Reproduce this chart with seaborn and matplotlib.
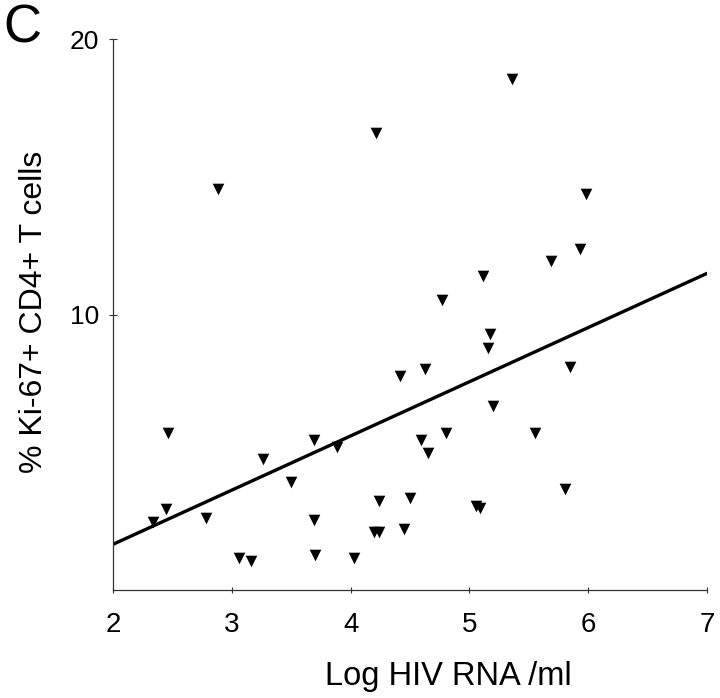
import numpy as np
import pandas as pd
import seaborn as sns
import matplotlib.pyplot as plt

# values
log_hiv_rna = [
    2.34, 2.447, 2.466, 2.783, 2.885, 3.061, 3.163, 3.264, 3.497, 3.691,
    3.693, 3.70, 3.885, 4.028, 4.193, 4.21, 4.235, 4.235, 4.418, 4.452,
    4.497, 4.595, 4.63, 4.648, 4.769, 4.805, 5.052, 5.086, 5.111, 5.159,
    5.17, 5.20, 5.356, 5.553, 5.684, 5.808, 5.844, 5.93, 5.98,
]
ki67_cd4 = [
    2.48, 2.93, 5.69, 2.62, 14.56, 1.15, 1.05, 4.74, 3.93, 2.54,
    5.44, 1.27, 5.20, 1.15, 2.09, 16.58, 2.09, 3.24, 7.77, 2.20,
    3.35, 5.44, 8.01, 4.96, 10.55, 5.69, 3.06, 2.97, 11.40, 8.80,
    9.28, 6.68, 18.55, 5.69, 11.95, 3.67, 8.11, 12.37, 14.39,
]
fit_x = [2.0, 7.0]
fit_y = [1.66, 11.5]

sns.set_style("white")
plt.rcParams["font.family"] = ["Liberation Sans", "DejaVu Sans"]
plt.rcParams["text.color"] = "black"

df = pd.DataFrame({"rna": log_hiv_rna, "ki67": ki67_cd4})
fit_df = pd.DataFrame({"x": fit_x, "y": fit_y})

fig = plt.figure(figsize=(7.2, 6.98), dpi=100)
ax = fig.add_axes([0.157, 0.1547, 0.825, 0.789])

sns.scatterplot(data=df, x="rna", y="ki67", marker="v", color="black",
                s=70, linewidth=0, ax=ax)
sns.lineplot(data=fit_df, x="x", y="y", color="black", linewidth=2.4, ax=ax)

ax.set_xlim(2, 7)
ax.set_ylim(0, 20)
ax.set_xticks([2, 3, 4, 5, 6, 7])
ax.set_yticks([10, 20])
ax.tick_params(axis="x", bottom=True, direction="inout", length=5, width=0.8,
               labelsize=20, pad=13, colors="black", color="#333333")
ax.tick_params(axis="y", left=True, direction="inout", length=6, width=0.8,
               labelsize=19, pad=7, colors="black", color="#333333")
for side in ["top", "right"]:
    ax.spines[side].set_visible(False)
for side in ["left", "bottom"]:
    ax.spines[side].set_color("#333333")
    ax.spines[side].set_linewidth(0.9)

ax.set_xlabel("")
ax.set_ylabel("")
fig.text(448 / 720, 1 - 685 / 698, "Log HIV RNA /ml", fontsize=23.5,
         ha="center", va="baseline")
fig.text(34 / 720, 1 - 312 / 698, "% Ki-67+ CD4+ T cells", fontsize=23,
         rotation=90, ha="center", va="center")
fig.text(0.004, 0.995, "C", fontsize=38, va="top", ha="left")

fig.savefig("out.png", dpi=100)
